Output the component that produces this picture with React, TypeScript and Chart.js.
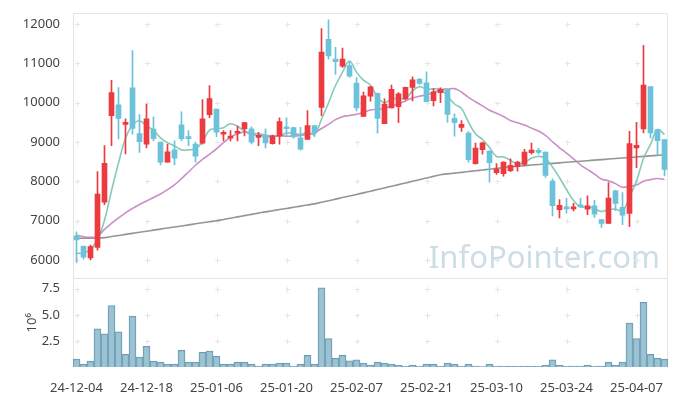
import { useEffect, useRef } from "react";
import { Chart, registerables } from "chart.js";

Chart.register(...registerables);

const dates = [
  "24-12-04", "24-12-05", "24-12-06", "24-12-09", "24-12-10", "24-12-11", "24-12-12", "24-12-13", "24-12-16", "24-12-17",
  "24-12-18", "24-12-19", "24-12-20", "24-12-23", "24-12-24", "24-12-26", "24-12-27", "24-12-30", "25-01-02", "25-01-03",
  "25-01-06", "25-01-07", "25-01-08", "25-01-09", "25-01-10", "25-01-13", "25-01-14", "25-01-15", "25-01-16", "25-01-17",
  "25-01-20", "25-01-21", "25-01-22", "25-01-23", "25-01-24", "25-01-31", "25-02-03", "25-02-04", "25-02-05", "25-02-06",
  "25-02-07", "25-02-10", "25-02-11", "25-02-12", "25-02-13", "25-02-14", "25-02-17", "25-02-18", "25-02-19", "25-02-20",
  "25-02-21", "25-02-24", "25-02-25", "25-02-26", "25-02-27", "25-02-28", "25-03-04", "25-03-05", "25-03-06", "25-03-07",
  "25-03-10", "25-03-11", "25-03-12", "25-03-13", "25-03-14", "25-03-17", "25-03-18", "25-03-19", "25-03-20", "25-03-21",
  "25-03-24", "25-03-25", "25-03-26", "25-03-27", "25-03-28", "25-03-31", "25-04-01", "25-04-02", "25-04-03", "25-04-04",
  "25-04-07", "25-04-08", "25-04-09", "25-04-10", "25-04-11",
];

const openPrices = [
  6613, 6350, 6050, 6320, 7470, 9670, 9950, 9450, 10380, 9215,
  8950, 9330, 9000, 8490, 8800, 9440, 9130, 8950, 8970, 9700,
  9840, 9200, 9100, 9225, 9335, 9335, 9120, 9160, 8960, 9150,
  9375, 9367, 9110, 9070, 9420, 9880, 11615, 11110, 10930, 10950,
  10500, 9650, 10166, 10243, 9470, 9870, 9900, 10106, 10390, 10600,
  10506, 10055, 10255, 10345, 9604, 9374, 9230, 8450, 8805, 8771,
  8220, 8195, 8271, 8373, 8432, 8729, 8771, 8746, 8008, 7280,
  7330, 7300, 7385, 7295, 7379, 7025, 6933, 7758, 7337, 7185,
  8853, 9333, 10411, 9316, 9063,
];
const highPrices = [
  6715, 6360, 6380, 8250, 8910, 10570, 10390, 9590, 11330, 9700,
  9970, 9640, 9000, 8950, 9030, 9770, 9290, 9000, 10080, 10440,
  9840, 9290, 9290, 9410, 9500, 9390, 9250, 9340, 9180, 9620,
  9620, 9380, 9375, 9800, 9420, 11890, 12110, 11410, 11390, 11030,
  10640, 10275, 10420, 10250, 10100, 10450, 10260, 10400, 10660, 10620,
  10790, 10360, 10380, 10350, 9720, 9550, 9270, 8975, 9000, 8780,
  8450, 8500, 8576, 8510, 8814, 8975, 8850, 8750, 8068, 7540,
  7570, 7440, 7570, 7630, 7520, 7030, 7968, 7775, 7716, 9274,
  9500, 11463, 10411, 9316, 9070,
];
const lowPrices = [
  5940, 6020, 6000, 6250, 7410, 8910, 9080, 8700, 9200, 8740,
  8850, 9030, 8420, 8490, 8420, 9030, 8910, 8490, 8950, 9620,
  9140, 9030, 9030, 9030, 9160, 8955, 8910, 8850, 8945, 8945,
  9180, 9100, 8795, 9070, 9140, 9670, 11110, 10720, 10900, 10655,
  9790, 9650, 10040, 9230, 9468, 9868, 9495, 10070, 10050, 10470,
  10030, 9920, 10000, 9510, 9150, 9270, 8490, 8440, 8690, 7980,
  8180, 8130, 8250, 8260, 8400, 8695, 8690, 8100, 7120, 7070,
  7190, 7250, 7337, 7150, 7085, 6830, 6930, 7253, 6900, 6848,
  8347, 9232, 9105, 8667, 8137,
];
const closePrices = [
  6512, 6070, 6340, 7675, 8460, 10260, 9600, 9500, 9350, 9010,
  9590, 9090, 8490, 8750, 8590, 9090, 9090, 8640, 9590, 10110,
  9250, 9250, 9140, 9265, 9495, 9000, 9160, 8980, 9160, 9520,
  9340, 9130, 8820, 9420, 9250, 11290, 11195, 11045, 11110, 10680,
  9870, 10175, 10404, 9600, 9970, 10345, 10225, 10396, 10583, 10490,
  10030, 10277, 10340, 9706, 9494, 9451, 8550, 8847, 8983, 8475,
  8314, 8492, 8407, 8492, 8746, 8797, 8740, 8153, 7381, 7390,
  7300, 7337, 7350, 7379, 7168, 6933, 7572, 7438, 7143, 8962,
  8920, 10453, 9232, 9038, 8305,
];

// volume in millions of shares (axis unit 10^6)
const volumes = [
  0.75, 0.28, 0.56, 3.66, 3.19, 5.9, 3.38, 1.22, 4.88, 0.94,
  1.97, 0.56, 0.47, 0.28, 0.28, 1.59, 0.47, 0.47, 1.41, 1.53,
  1.03, 0.28, 0.28, 0.47, 0.47, 0.28, 0.09, 0.28, 0.28, 0.38,
  0.38, 0.09, 0.28, 1.13, 0.28, 7.6, 2.72, 0.84, 1.13, 0.59,
  0.69, 0.38, 0.19, 0.47, 0.38, 0.28, 0.19, 0.09, 0.19, 0.09,
  0.28, 0.28, 0.09, 0.38, 0.28, 0.09, 0.28, 0.09, 0.03, 0.28,
  0.09, 0.07, 0.08, 0.06, 0.08, 0.07, 0.09, 0.19, 0.69, 0.19,
  0.09, 0.08, 0.09, 0.19, 0.09, 0.08, 0.47, 0.19, 0.47, 4.22,
  2.72, 6.19, 1.22, 0.84, 0.75,
];

const ma5 = [
  6170, 6175, 6270, 6520, 7011, 7761, 8467, 9099, 9434, 9544,
  9410, 9308, 9106, 8986, 8902, 8802, 8802, 8832, 9000, 9304,
  9336, 9368, 9468, 9403, 9280, 9230, 9212, 9180, 9159, 9164,
  9232, 9226, 9194, 9246, 9192, 9582, 9995, 10440, 10778, 11064,
  10780, 10576, 10448, 10146, 10004, 10099, 10109, 10107, 10304, 10408,
  10345, 10355, 10344, 10169, 9969, 9854, 9508, 9210, 9065, 8861,
  8634, 8622, 8534, 8436, 8490, 8587, 8637, 8586, 8364, 8092,
  7794, 7512, 7352, 7352, 7308, 7234, 7281, 7298, 7251, 7610,
  8007, 8583, 8942, 9321, 9190,
];
const ma20 = [
  6630, 6590, 6575, 6600, 6780, 6930, 7070, 7200, 7310, 7410,
  7500, 7590, 7680, 7790, 7910, 8070, 8240, 8410, 8560, 8690,
  8827, 8986, 9126, 9206, 9258, 9195, 9173, 9147, 9137, 9163,
  9151, 9153, 9169, 9203, 9236, 9346, 9451, 9571, 9647, 9676,
  9707, 9753, 9816, 9833, 9856, 9924, 9977, 10048, 10119, 10167,
  10201, 10259, 10335, 10349, 10361, 10269, 10137, 10027, 9921, 9811,
  9733, 9649, 9549, 9493, 9432, 9355, 9281, 9169, 9009, 8854,
  8717, 8570, 8421, 8304, 8188, 8062, 8013, 7943, 7851, 7875,
  7906, 8004, 8045, 8072, 8050,
];
const maLong = [
  6550, 6553, 6556, 6560, 6570, 6597, 6624, 6651, 6678, 6705,
  6732, 6759, 6786, 6813, 6840, 6866, 6893, 6920, 6946, 6973,
  7000, 7032, 7064, 7096, 7128, 7160, 7192, 7225, 7254, 7283,
  7312, 7341, 7370, 7399, 7428, 7468, 7508, 7548, 7588, 7628,
  7668, 7708, 7750, 7792, 7834, 7876, 7918, 7960, 8002, 8044,
  8086, 8128, 8170, 8190, 8210, 8230, 8250, 8270, 8290, 8310,
  8330, 8350, 8370, 8385, 8400, 8415, 8430, 8445, 8459, 8472,
  8486, 8500, 8513, 8527, 8540, 8554, 8568, 8581, 8595, 8608,
  8622, 8636, 8649, 8663, 8677,
];

const priceTicks = [6000, 7000, 8000, 9000, 10000, 11000, 12000];
const volumeTicks = [2.5, 5, 7.5];
const dateTickEvery = 10;
const watermark = "InfoPointer.com";

const UP = "#ec3a3f";
const DOWN = "#6cc3d9";
const FONT = "Noto Sans";

const decorPlugin = {
  id: "decor",
  beforeDatasetsDraw(chart: any) {
    const { ctx, chartArea } = chart;
    const xs = chart.scales.x;
    const ys = chart.scales.y;
    const yv = chart.scales.yv;
    ctx.save();
    // watermark
    ctx.font = `31px "${FONT}"`;
    ctx.fillStyle = "rgba(172,200,216,0.62)";
    ctx.textAlign = "right";
    ctx.textBaseline = "alphabetic";
    ctx.fillText(watermark, chartArea.right - 8, ys.bottom - 10);
    // grid crosses
    ctx.strokeStyle = "#e6e6e6";
    ctx.lineWidth = 1;
    const xPix: number[] = [];
    for (let i = 0; i < dates.length; i += dateTickEvery) xPix.push(Math.round(xs.getPixelForValue(i)) + 0.5);
    const yPix: number[] = [];
    priceTicks.forEach((v) => yPix.push(Math.round(ys.getPixelForValue(v)) + 0.5));
    volumeTicks.forEach((v) => yPix.push(Math.round(yv.getPixelForValue(v)) + 0.5));
    ctx.beginPath();
    for (const px of xPix) {
      for (const py of yPix) {
        ctx.moveTo(px - 2.5, py);
        ctx.lineTo(px + 3, py);
        ctx.moveTo(px, py - 2.5);
        ctx.lineTo(px, py + 3);
      }
    }
    ctx.stroke();
    // panel borders
    ctx.strokeStyle = "#e4e4e4";
    ctx.beginPath();
    const l = Math.round(chartArea.left) + 0.5;
    const r = Math.round(chartArea.right) - 0.5;
    const t = Math.round(chartArea.top) + 0.5;
    const b = Math.round(chartArea.bottom);
    const mid = Math.round(ys.bottom) + 0.5;
    ctx.moveTo(l, b);
    ctx.lineTo(l, t);
    ctx.lineTo(r, t);
    ctx.lineTo(r, b);
    ctx.moveTo(l, mid);
    ctx.lineTo(r, mid);
    ctx.stroke();
    ctx.restore();
  },
};

export default function App() {
  const ref = useRef<HTMLCanvasElement>(null);
  useEffect(() => {
    const colors = openPrices.map((o, i) => (closePrices[i] >= o ? UP : DOWN));
    const tickFont = { family: FONT, size: 13 };
    const chart = new Chart(ref.current as HTMLCanvasElement, {
      type: "bar",
      data: {
        labels: dates,
        datasets: [
          {
            type: "bar",
            label: "body",
            data: openPrices.map((o, i) => [o, closePrices[i]]) as any,
            backgroundColor: colors,
            barThickness: 5,
            minBarLength: 2,
            grouped: false,
            yAxisID: "y",
            order: 0,
          },
          {
            type: "bar",
            label: "wick",
            data: lowPrices.map((lo, i) => [lo, highPrices[i]]) as any,
            backgroundColor: colors,
            barThickness: 1,
            grouped: false,
            yAxisID: "y",
            order: 1,
          },
          {
            type: "line",
            label: "MA5",
            data: ma5,
            borderColor: "rgba(120,196,178,0.9)",
            borderWidth: 1.6,
            pointRadius: 0,
            tension: 0.4,
            yAxisID: "y",
            order: 2,
          },
          {
            type: "line",
            label: "MA20",
            data: ma20,
            borderColor: "rgba(196,130,194,0.9)",
            borderWidth: 1.6,
            pointRadius: 0,
            tension: 0.4,
            yAxisID: "y",
            order: 3,
          },
          {
            type: "line",
            label: "MA long",
            data: maLong,
            borderColor: "rgba(130,130,130,0.85)",
            borderWidth: 1.6,
            pointRadius: 0,
            tension: 0.4,
            yAxisID: "y",
            order: 4,
          },
          {
            type: "bar",
            label: "Volume",
            data: volumes,
            backgroundColor: "rgba(145,188,206,0.9)",
            borderColor: "#6a99b1",
            borderWidth: 1,
            barPercentage: 1,
            categoryPercentage: 1,
            grouped: false,
            yAxisID: "yv",
            order: 5,
          },
        ],
      },
      options: {
        responsive: false,
        animation: false,
        devicePixelRatio: 1,
        layout: { padding: { top: 10, right: 9, left: 0, bottom: 0 } },
        plugins: { legend: { display: false }, tooltip: { enabled: false } },
        scales: {
          x: {
            type: "category",
            offset: true,
            grid: { display: false },
            border: { display: false },
            ticks: { maxRotation: 0, autoSkip: false, padding: 5, color: "#444", font: tickFont },
            afterBuildTicks: (s: any) => {
              s.ticks = s.ticks.filter((t: any) => t.value % dateTickEvery === 0);
            },
            afterFit: (s: any) => {
              s.height = 29;
            },
          },
          yv: {
            type: "linear",
            position: "left",
            stack: "panels",
            stackWeight: 1,
            min: 0,
            max: 8.49,
            grid: { display: false },
            border: { display: false },
            ticks: { padding: 5, color: "#444", font: tickFont, callback: (v: any) => Number(v).toFixed(1) },
            afterBuildTicks: (s: any) => {
              s.ticks = volumeTicks.map((v) => ({ value: v }));
            },
            afterFit: (s: any) => {
              s.width = 73;
            },
            title: { display: true, text: "10⁶", color: "#444", font: tickFont, padding: { top: 24, bottom: 0 } },
          },
          y: {
            type: "linear",
            position: "left",
            stack: "panels",
            stackWeight: 3,
            min: 5530,
            max: 12290,
            grid: { display: false },
            border: { display: false },
            ticks: { padding: 5, color: "#444", font: tickFont, callback: (v: any) => String(v) },
            afterBuildTicks: (s: any) => {
              s.ticks = priceTicks.map((v) => ({ value: v }));
            },
            afterFit: (s: any) => {
              s.width = 73;
            },
          },
        },
      } as any,
      plugins: [decorPlugin],
    });
    return () => chart.destroy();
  }, []);
  return (
    <div style={{ position: "fixed", left: 0, top: 0, width: 677, height: 396, background: "#fff" }}>
      <canvas ref={ref} width={677} height={396} style={{ display: "block" }} />
    </div>
  );
}
